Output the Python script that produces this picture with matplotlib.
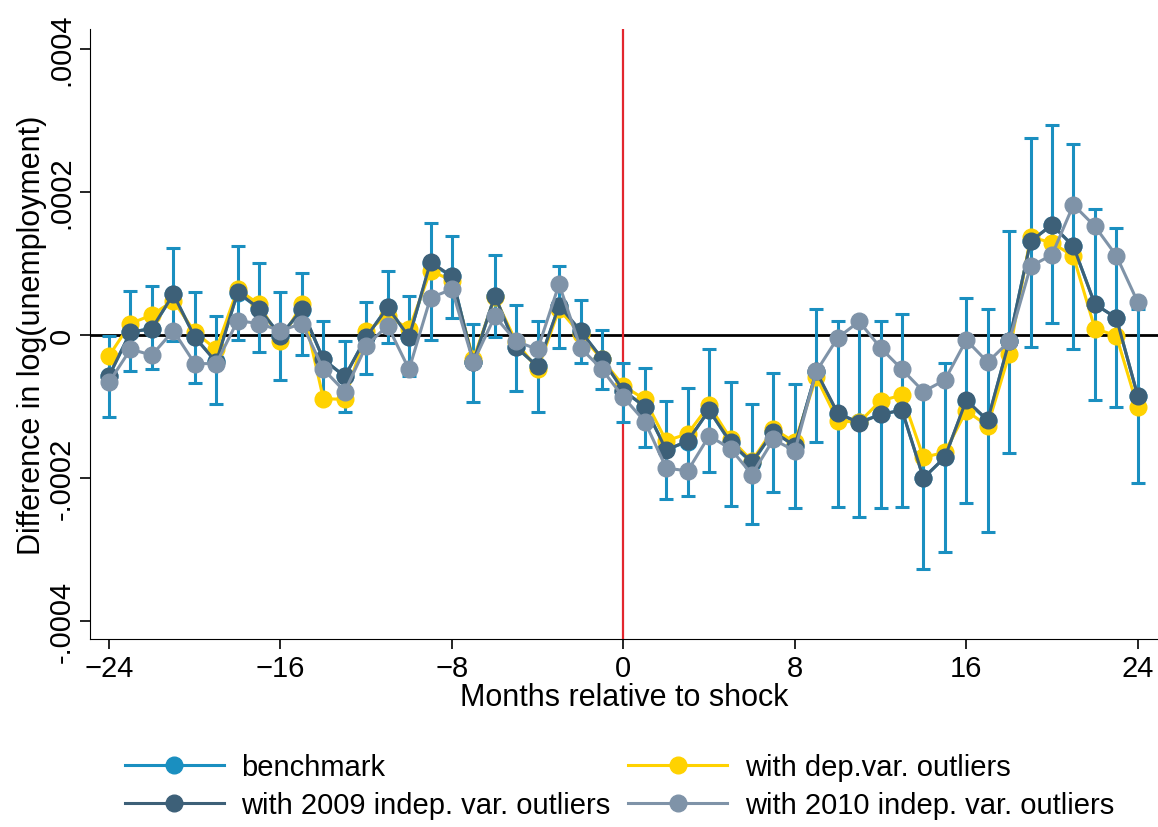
import matplotlib
matplotlib.use("Agg")
import matplotlib.pyplot as plt
import numpy as np

months = list(range(-24, 25))

# values in units of 1e-4
bench = [-0.57, 0.04, 0.09, 0.57, -0.03, -0.37, 0.59, 0.37, -0.01, 0.35, -0.34, -0.58, -0.03, 0.39, -0.03,
         1.00, 0.82, -0.38, 0.55, -0.17, -0.44, 0.40, 0.05, -0.33,
         -0.78, -1.00, -1.60, -1.49, -1.05, -1.51, -1.79, -1.35, -1.55, -0.52, -1.10, -1.22, -1.11, -1.05,
         -2.00, -1.71, -0.92, -1.20, -0.09, 1.31, 1.54, 1.24, 0.43, 0.24, -0.85]
ci_hi = [-0.01, 0.62, 0.68, 1.21, 0.60, 0.26, 1.24, 1.01, 0.60, 0.87, 0.19, -0.08, 0.46, 0.89, 0.55,
         1.57, 1.38, 0.15, 1.12, 0.42, 0.19, 0.96, 0.49, 0.07,
         -0.39, -0.46, -0.92, -0.74, -0.19, -0.65, -0.97, -0.53, -0.69, 0.36, 0.19, 0.23, 0.20, 0.30,
         -0.78, -0.39, 0.52, 0.36, 1.45, 2.76, 2.93, 2.67, 1.76, 1.50, 0.37]
ci_lo = [-1.14, -0.51, -0.48, -0.08, -0.67, -0.96, -0.07, -0.24, -0.63, -0.28, -0.85, -1.08, -0.54, -0.11, -0.57,
         -0.07, 0.24, -0.94, -0.03, -0.78, -1.07, -0.18, -0.39, -0.75,
         -1.21, -1.57, -2.29, -2.25, -1.92, -2.39, -2.64, -2.19, -2.42, -1.50, -2.40, -2.55, -2.42, -2.40,
         -3.27, -3.04, -2.35, -2.76, -1.65, -0.17, 0.17, -0.20, -0.91, -1.01, -2.07]
dep_out = [-0.29, 0.16, 0.28, 0.48, 0.04, -0.20, 0.64, 0.43, -0.08, 0.43, -0.89, -0.90, 0.05, 0.27, 0.08,
           0.90, 0.76, -0.34, 0.53, -0.10, -0.48, 0.36, 0.01, -0.34,
           -0.71, -0.90, -1.48, -1.38, -0.98, -1.45, -1.76, -1.31, -1.50, -0.59, -1.20, -1.22, -0.92, -0.84,
           -1.71, -1.64, -1.06, -1.27, -0.27, 1.37, 1.29, 1.10, 0.09, -0.01, -1.01]
ind2009 = [-0.57, 0.04, 0.09, 0.57, -0.03, -0.38, 0.60, 0.37, -0.01, 0.36, -0.34, -0.58, -0.03, 0.39, -0.03,
           1.02, 0.82, -0.38, 0.55, -0.17, -0.44, 0.41, 0.06, -0.33,
           -0.78, -1.00, -1.61, -1.48, -1.05, -1.50, -1.78, -1.35, -1.55, -0.51, -1.09, -1.23, -1.11, -1.05,
           -2.00, -1.71, -0.91, -1.19, -0.09, 1.31, 1.54, 1.24, 0.43, 0.24, -0.85]
ind2010 = [-0.66, -0.20, -0.28, 0.06, -0.40, -0.40, 0.20, 0.16, 0.06, 0.16, -0.48, -0.79, -0.15, 0.13, -0.48,
           0.52, 0.64, -0.38, 0.26, -0.09, -0.20, 0.71, -0.18, -0.48,
           -0.87, -1.21, -1.86, -1.90, -1.41, -1.59, -1.95, -1.46, -1.62, -0.51, -0.04, 0.19, -0.18, -0.48,
           -0.79, -0.63, -0.07, -0.38, -0.09, 0.96, 1.12, 1.82, 1.52, 1.11, 0.46]

s = 1e-4
x = np.array(months)
b = np.array(bench) * s
lo = np.array(ci_lo) * s
hi = np.array(ci_hi) * s

plt.rcParams['font.family'] = ['Liberation Sans', 'DejaVu Sans']
fig = plt.figure(figsize=(11.58, 8.28), dpi=100)
ax = fig.add_axes([0.0777, 0.227, 0.922, 0.737])

blue, yellow, dark, grey = '#1a8fc0', '#ffd200', '#3d6078', '#7f93a8'
ax.axhline(0, color='black', lw=2, zorder=1)
ax.axvline(0, color='#e3262e', lw=1.6, zorder=1)
ax.errorbar(x, b, yerr=[b - lo, hi - b], fmt='none', ecolor=blue, elinewidth=2.2, capsize=5, capthick=2.2, zorder=2)
kw = dict(marker='o', ms=12, lw=2.2)
ax.plot(x, b, color=blue, label='benchmark', zorder=3, **kw)
ax.plot(x, np.array(dep_out) * s, color=yellow, label='with dep.var. outliers', zorder=4, **kw)
ax.plot(x, np.array(ind2009) * s, color=dark, label='with 2009 indep. var. outliers', zorder=5, **kw)
ax.plot(x, np.array(ind2010) * s, color=grey, label='with 2010 indep. var. outliers', zorder=6, **kw)

ax.set_xlim(-24.89, 24.93)
ax.set_ylim(-4.25e-4, 4.28e-4)
ax.set_xticks([-24, -16, -8, 0, 8, 16, 24])
ax.set_xticklabels(['\u221224', '\u221216', '\u22128', '0', '8', '16', '24'])
ax.set_yticks([-4e-4, -2e-4, 0, 2e-4, 4e-4])
ax.set_yticklabels(['-.0004', '-.0002', '0', '.0002', '.0004'], rotation=90, va='center')
ax.tick_params(labelsize=21, length=7, width=1.2)
for sp in ['top', 'right']:
    ax.spines[sp].set_visible(False)
ax.set_xlabel('Months relative to shock', fontsize=22, labelpad=0)
ax.set_ylabel('Difference in log(unemployment)', fontsize=22, labelpad=0)

h, l = ax.get_legend_handles_labels()
order = [0, 2, 1, 3]
fig.legend([h[i] for i in order], [l[i] for i in order], ncol=2, loc='lower left',
           bbox_to_anchor=(0.085, -0.022), frameon=False, fontsize=21, handlelength=3.4,
           handletextpad=0.6, columnspacing=0.6, labelspacing=0.35)
fig.savefig('out.png', dpi=100)
